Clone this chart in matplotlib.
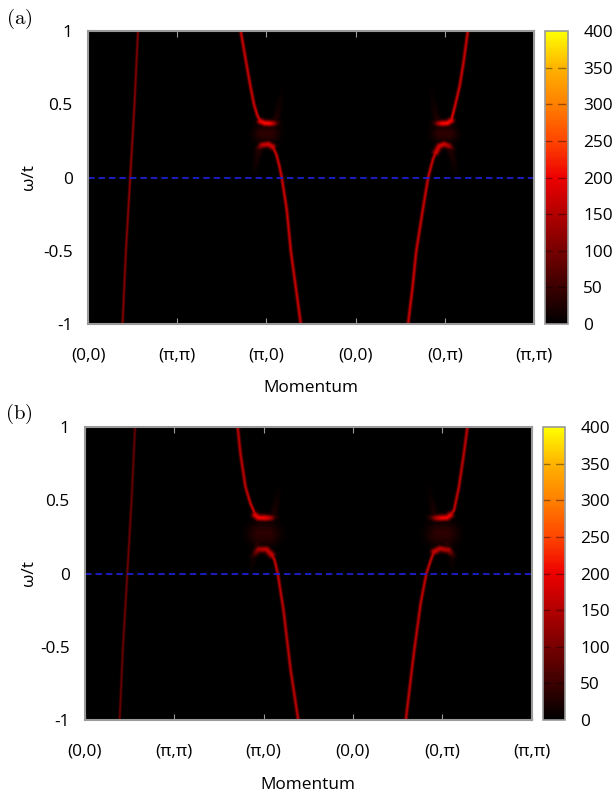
import numpy as np
import matplotlib
matplotlib.use("Agg")
import matplotlib.pyplot as plt
from matplotlib.colors import LinearSegmentedColormap

plt.rcParams['font.family'] = ['Open Sans', 'DejaVu Sans']
plt.rcParams['mathtext.fontset'] = 'cm'

# --- data: band positions (k along path, omega/t) and peak weight ---
k_labels = ['(0,0)', '(π,π)', '(π,0)', '(0,0)', '(0,π)', '(π,π)']
cbar_ticks = [0, 50, 100, 150, 200, 250, 300, 350, 400]

band1_k = [0.385, 0.423, 0.471, 0.519, 0.558]
band1_w = [-1.0, -0.5, 0.0, 0.5, 1.0]
band1_amp_a = [120, 120, 130, 120, 115]
band1_amp_b = [95, 95, 100, 95, 90]

# panel (a), feature around (pi,0)
a_upL_k = [1.712, 1.76, 1.815, 1.86, 1.90, 1.935]
a_upL_w = [1.0, 0.83, 0.64, 0.50, 0.42, 0.385]
a_upL_amp = [175, 175, 175, 178, 185, 195]
a_barL_k = [1.93, 1.98, 2.04, 2.08, 2.13]
a_barL_w = [0.385, 0.372, 0.37, 0.37, 0.374]
a_barL_amp = [200, 215, 210, 150, 40]
a_archL_k = [1.90, 1.95, 2.02, 2.07]
a_archL_w = [0.195, 0.222, 0.228, 0.21]
a_archL_amp = [40, 165, 180, 178]
a_lowL_k = [2.07, 2.11, 2.145, 2.172, 2.228, 2.275, 2.328, 2.385]
a_lowL_w = [0.21, 0.16, 0.08, 0.0, -0.22, -0.51, -0.744, -1.0]
a_lowL_amp = [178, 175, 175, 175, 175, 175, 175, 175]
# panel (a), feature around (0,pi)
a_lowR_k = [3.59, 3.64, 3.68, 3.755, 3.815, 3.845, 3.87, 3.90]
a_lowR_w = [-1.0, -0.75, -0.51, -0.22, 0.0, 0.07, 0.127, 0.17]
a_lowR_amp = [175, 175, 175, 175, 175, 175, 175, 178]
a_archR_k = [3.90, 3.94, 3.995, 4.05, 4.09]
a_archR_w = [0.17, 0.215, 0.228, 0.215, 0.195]
a_archR_amp = [178, 180, 175, 140, 40]
a_barR_k = [3.88, 3.93, 3.97, 4.03, 4.075]
a_barR_w = [0.374, 0.37, 0.37, 0.372, 0.39]
a_barR_amp = [40, 150, 210, 215, 200]
a_upR_k = [4.075, 4.10, 4.14, 4.17, 4.215, 4.26]
a_upR_w = [0.39, 0.45, 0.55, 0.63, 0.80, 1.0]
a_upR_amp = [195, 185, 178, 175, 175, 175]

# panel (b), feature around (pi,0)
b_upL_k = [1.707, 1.738, 1.794, 1.85, 1.906]
b_upL_w = [1.0, 0.82, 0.593, 0.479, 0.40]
b_upL_amp = [165, 165, 165, 170, 185]
b_barL_k = [1.90, 1.94, 2.02, 2.08, 2.13]
b_barL_w = [0.40, 0.382, 0.38, 0.38, 0.384]
b_barL_amp = [190, 205, 200, 140, 35]
b_archL_k = [1.88, 1.94, 2.03, 2.09]
b_archL_w = [0.12, 0.165, 0.165, 0.126]
b_archL_amp = [35, 145, 160, 170]
b_lowL_k = [2.09, 2.12, 2.156, 2.22, 2.30, 2.385]
b_lowL_w = [0.126, 0.092, 0.0, -0.25, -0.66, -1.0]
b_lowL_amp = [170, 168, 165, 165, 165, 165]
# panel (b), feature around (0,pi)
b_lowR_k = [3.59, 3.68, 3.756, 3.82, 3.87, 3.905]
b_lowR_w = [-1.0, -0.545, -0.204, 0.0, 0.092, 0.149]
b_lowR_amp = [165, 165, 165, 165, 168, 170]
b_archR_k = [3.905, 3.97, 4.07, 4.12]
b_archR_w = [0.149, 0.17, 0.16, 0.12]
b_archR_amp = [170, 160, 145, 35]
b_barR_k = [3.86, 3.92, 3.98, 4.05, 4.09]
b_barR_w = [0.384, 0.38, 0.38, 0.382, 0.40]
b_barR_amp = [35, 140, 200, 205, 190]
b_upR_k = [4.09, 4.13, 4.185, 4.24, 4.28]
b_upR_w = [0.40, 0.433, 0.593, 0.82, 1.0]
b_upR_amp = [185, 172, 165, 165, 165]

# faint shadow bands and haze in the gaps
ghL1_k = [1.93, 1.895, 1.87, 1.855]
ghL1_w = [0.21, 0.14, 0.06, 0.0]
ghL2_k = [2.09, 2.12, 2.15, 2.18]
ghL2_w = [0.375, 0.43, 0.52, 0.62]
ghR1_k = [4.05, 4.09, 4.115, 4.13]
ghR1_w = [0.21, 0.14, 0.06, 0.0]
ghR2_k = [3.93, 3.90, 3.87, 3.84]
ghR2_w = [0.375, 0.43, 0.52, 0.62]
gh_amp = [35, 22, 10, 3]
hazeL_k = [1.95, 2.05]
hazeR_k = [3.95, 4.05]
haze_w_a = [0.30, 0.30]
haze_w_b = [0.272, 0.272]
haze_amp = [38, 38]

# --- rendering of the spectral map ---
SX, SY = 89.2, 146.5      # display pixels per unit k / per unit omega
NK, NW = 900, 600
kk = np.linspace(0, 5, NK)
ww = np.linspace(-1, 1, NW)
K, W = np.meshgrid(kk, ww)
X, Y = K * SX, W * SY


def branch_image(k, w, amp, sig):
    px, py, a = np.asarray(k) * SX, np.asarray(w) * SY, np.asarray(amp, float)
    best_d2 = np.full(X.shape, np.inf)
    best_a = np.zeros(X.shape)
    for i in range(len(px) - 1):
        dx, dy = px[i + 1] - px[i], py[i + 1] - py[i]
        t = np.clip(((X - px[i]) * dx + (Y - py[i]) * dy) / (dx * dx + dy * dy), 0, 1)
        d2 = (X - px[i] - t * dx) ** 2 + (Y - py[i] - t * dy) ** 2
        aa = a[i] + t * (a[i + 1] - a[i])
        m = d2 < best_d2
        best_d2 = np.where(m, d2, best_d2)
        best_a = np.where(m, aa, best_a)
    return best_a * np.exp(-0.5 * best_d2 / sig ** 2)


def spectral_map(branches):
    img = np.zeros(X.shape)
    for k, w, amp, sig in branches:
        img = np.maximum(img, branch_image(k, w, amp, sig))
    return img


img_a = spectral_map([
    (band1_k, band1_w, band1_amp_a, 0.85),
    (a_upL_k, a_upL_w, a_upL_amp, 1.1), (a_barL_k, a_barL_w, a_barL_amp, 2.1),
    (a_archL_k, a_archL_w, a_archL_amp, 2.1), (a_lowL_k, a_lowL_w, a_lowL_amp, 1.1),
    (a_lowR_k, a_lowR_w, a_lowR_amp, 1.1), (a_archR_k, a_archR_w, a_archR_amp, 2.1),
    (a_barR_k, a_barR_w, a_barR_amp, 2.1), (a_upR_k, a_upR_w, a_upR_amp, 1.1),
    (ghL1_k, ghL1_w, gh_amp, 2.5), (ghL2_k, ghL2_w, gh_amp, 2.5),
    (ghR1_k, ghR1_w, gh_amp, 2.5), (ghR2_k, ghR2_w, gh_amp, 2.5),
    (hazeL_k, haze_w_a, haze_amp, 6.0), (hazeR_k, haze_w_a, haze_amp, 6.0),
])
img_b = spectral_map([
    (band1_k, band1_w, band1_amp_b, 0.85),
    (b_upL_k, b_upL_w, b_upL_amp, 1.1), (b_barL_k, b_barL_w, b_barL_amp, 2.2),
    (b_archL_k, b_archL_w, b_archL_amp, 2.2), (b_lowL_k, b_lowL_w, b_lowL_amp, 1.1),
    (b_lowR_k, b_lowR_w, b_lowR_amp, 1.1), (b_archR_k, b_archR_w, b_archR_amp, 2.2),
    (b_barR_k, b_barR_w, b_barR_amp, 2.2), (b_upR_k, b_upR_w, b_upR_amp, 1.1),
    (ghL1_k, ghL1_w, gh_amp, 2.5), (ghL2_k, ghL2_w, gh_amp, 2.5),
    (ghR1_k, ghR1_w, gh_amp, 2.5), (ghR2_k, ghR2_w, gh_amp, 2.5),
    (hazeL_k, haze_w_b, haze_amp, 8.0), (hazeR_k, haze_w_b, haze_amp, 8.0),
])

cmap = LinearSegmentedColormap.from_list('spec', [
    (0.0, (0, 0, 0)), (0.25, (0.47, 0, 0)), (0.5, (0.93, 0, 0)),
    (0.625, (1, 0.27, 0)), (0.75, (1, 0.5, 0)), (0.875, (1, 0.7, 0)),
    (1.0, (1, 1, 0))])

GREY = '#9a9a9a'
FS = 12.4
fig = plt.figure(figsize=(6.15, 7.96), dpi=100)


def panel(img, ax_rect, cax_rect, tag, tag_y, xlab_y):
    ax = fig.add_axes(ax_rect)
    cax = fig.add_axes(cax_rect)
    im = ax.imshow(img, origin='lower', extent=[0, 5, -1, 1], aspect='auto',
                   cmap=cmap, vmin=0, vmax=400, interpolation='bilinear')
    ax.axhline(0, color=(0.12, 0.12, 0.8), lw=1.3, ls=(0, (3.6, 2.2)))
    ax.set_xlim(0, 5)
    ax.set_ylim(-1, 1)
    ax.set_xticks(range(6))
    ax.set_xticklabels(k_labels)
    ax.set_yticks([-1, -0.5, 0, 0.5, 1])
    ax.set_yticklabels(['-1', '-0.5', '0', '0.5', '1'])
    ax.tick_params(axis='x', direction='in', length=4, color=GREY, top=True,
                   pad=17, labelsize=FS)
    ax.tick_params(axis='y', length=0, pad=11, labelsize=FS)
    for s in ax.spines.values():
        s.set_color(GREY)
        s.set_linewidth(1.5)

    cb = fig.colorbar(im, cax=cax, ticks=cbar_ticks)
    cb.outline.set_edgecolor(GREY)
    cb.outline.set_linewidth(1.2)
    cax.tick_params(length=0, pad=11, labelsize=FS)
    for v in cbar_ticks[1:-1]:
        cax.axhline(v, color='k', alpha=0.4, lw=1.0, ls=(1, (6, 4)))

    mid_y = ax_rect[1] + ax_rect[3] / 2
    fig.text(29.5 / 615, mid_y, 'ω/t', rotation=90, ha='center', va='center',
             fontsize=FS)
    fig.text(ax_rect[0] + ax_rect[2] / 2, 1 - xlab_y / 796, 'Momentum',
             ha='center', va='center', fontsize=FS)
    fig.text(19 / 615, 1 - tag_y / 796, tag, ha='center', va='center', fontsize=15)
    return ax


panel(img_a, [88 / 615, 1 - 324 / 796, 446 / 615, 293 / 796],
      [545 / 615, 1 - 324 / 796, 23 / 615, 293 / 796], r'$\mathrm{(a)}$', 19, 388)
panel(img_b, [85 / 615, 1 - 720 / 796, 446.5 / 615, 293 / 796],
      [542.5 / 615, 1 - 720 / 796, 22.5 / 615, 293 / 796], r'$\mathrm{(b)}$', 414, 785)

fig.savefig('out.png', dpi=100)
